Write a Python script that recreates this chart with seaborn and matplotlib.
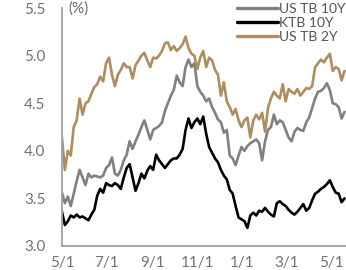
import numpy as np
import pandas as pd
import matplotlib
matplotlib.use("Agg")
import matplotlib.pyplot as plt
import matplotlib.dates as mdates
import seaborn as sns

# sampled every 4 calendar days from 2023-05-01
start_date = "2023-05-01"
step_days = 4

us_2y = [4.14, 3.80, 4.00, 3.95, 4.25, 4.32, 4.55, 4.38, 4.50, 4.52,
         4.60, 4.67, 4.70, 4.78, 4.73, 4.92, 4.98, 4.80, 4.68, 4.80,
         4.85, 4.92, 4.88, 4.88, 4.76, 4.90, 4.95, 5.00, 5.03, 4.95,
         4.88, 4.98, 4.97, 5.00, 5.05, 5.13, 5.14, 5.06, 5.10, 5.05,
         5.08, 5.12, 5.20, 5.08, 5.02, 5.00, 4.86, 4.98, 5.05, 4.88,
         4.98, 4.95, 4.85, 4.80, 4.58, 4.72, 4.52, 4.46, 4.38, 4.44,
         4.32, 4.25, 4.32, 4.35, 4.14, 4.32, 4.38, 4.33, 4.40, 4.20,
         4.45, 4.55, 4.62, 4.58, 4.55, 4.70, 4.52, 4.65, 4.62, 4.60,
         4.65, 4.58, 4.62, 4.66, 4.65, 4.68, 4.88, 4.92, 4.96, 4.93,
         4.98, 5.02, 4.84, 4.88, 4.86, 4.74, 4.84]

us_10y = [3.56, 3.45, 3.52, 3.42, 3.55, 3.68, 3.80, 3.72, 3.64, 3.76,
          3.72, 3.74, 3.73, 3.72, 3.74, 3.82, 3.85, 3.93, 3.76, 3.74,
          3.80, 3.90, 3.96, 4.10, 4.02, 4.10, 4.17, 4.25, 4.32, 4.22,
          4.12, 4.22, 4.24, 4.26, 4.30, 4.42, 4.50, 4.58, 4.64, 4.79,
          4.72, 4.68, 4.88, 4.96, 4.88, 4.92, 4.68, 4.62, 4.58, 4.52,
          4.55, 4.46, 4.40, 4.33, 4.30, 4.19, 4.22, 3.95, 3.92, 3.85,
          3.95, 4.04, 4.00, 4.05, 4.08, 4.10, 4.12, 4.08, 3.90, 4.10,
          4.22, 4.25, 4.38, 4.28, 4.32, 4.30, 4.22, 4.14, 4.10, 4.20,
          4.24, 4.22, 4.21, 4.30, 4.35, 4.45, 4.55, 4.62, 4.63, 4.66,
          4.71, 4.64, 4.50, 4.49, 4.46, 4.34, 4.41]

ktb_10y = [3.36, 3.22, 3.26, 3.32, 3.30, 3.33, 3.30, 3.31, 3.29, 3.27,
           3.33, 3.38, 3.53, 3.60, 3.56, 3.66, 3.64, 3.63, 3.66, 3.64,
           3.60, 3.72, 3.82, 3.86, 3.72, 3.58, 3.66, 3.76, 3.71, 3.79,
           3.84, 3.80, 3.96, 3.90, 3.86, 3.82, 3.86, 3.90, 3.92, 3.92,
           3.96, 4.02, 4.22, 4.34, 4.24, 4.30, 4.34, 4.28, 4.36, 4.18,
           4.04, 3.98, 3.92, 3.88, 3.80, 3.74, 3.70, 3.59, 3.55, 3.42,
           3.30, 3.28, 3.26, 3.19, 3.32, 3.35, 3.32, 3.37, 3.36, 3.40,
           3.36, 3.33, 3.31, 3.45, 3.47, 3.44, 3.42, 3.38, 3.35, 3.33,
           3.36, 3.40, 3.44, 3.37, 3.40, 3.48, 3.55, 3.57, 3.60, 3.62,
           3.65, 3.69, 3.62, 3.56, 3.55, 3.46, 3.50]

dates = pd.date_range(start_date, periods=len(us_2y), freq=f"{step_days}D")

df = pd.DataFrame({"date": dates, "US TB 10Y": us_10y, "KTB 10Y": ktb_10y, "US TB 2Y": us_2y})
long_df = df.melt(id_vars="date", var_name="series", value_name="rate")

colors = {"US TB 10Y": "#808080", "KTB 10Y": "#000000", "US TB 2Y": "#B08D60"}

sns.set_style("white")
plt.rcParams["font.family"] = ["Lato", "DejaVu Sans"]

fig = plt.figure(figsize=(3.46, 2.70), dpi=100)
ax = fig.add_axes([0.179, 0.089, 0.821, 0.881])

sns.lineplot(data=long_df, x="date", y="rate", hue="series",
             hue_order=["US TB 10Y", "KTB 10Y", "US TB 2Y"],
             palette=colors, linewidth=1.9, ax=ax)

ax.set_ylim(3.0, 5.5)
ax.set_yticks([3.0, 3.5, 4.0, 4.5, 5.0, 5.5])
ax.yaxis.set_major_formatter(matplotlib.ticker.FormatStrFormatter("%.1f"))
ax.set_xlim(pd.Timestamp("2023-05-01"), pd.Timestamp("2024-05-21"))
ax.xaxis.set_major_locator(mdates.MonthLocator(bymonth=[1, 3, 5, 7, 9, 11]))
ax.xaxis.set_major_formatter(matplotlib.ticker.FuncFormatter(
    lambda v, p: f"{mdates.num2date(v).month}/1"))
ax.set_xlabel("")
ax.set_ylabel("")

for side in ["top", "right"]:
    ax.spines[side].set_visible(False)
for side in ["left", "bottom"]:
    ax.spines[side].set_color("#a0a0a0")
    ax.spines[side].set_linewidth(1.3)
ax.tick_params(axis="both", colors="#a0a0a0", labelcolor="#727272",
               labelsize=11, length=3, width=1.2, direction="out")
ax.tick_params(axis="y", pad=9)
ax.tick_params(axis="x", pad=4)

ax.annotate("(%)", xy=(0, 1), xycoords="axes fraction", xytext=(4.5, 4.5),
            textcoords="offset points", ha="left", va="top",
            fontsize=11, color="#666666")

leg = ax.legend(loc="upper right", bbox_to_anchor=(1.0, 0.993),
                bbox_transform=fig.transFigure, frameon=False,
                fontsize=10, handlelength=2.9, handletextpad=0.08,
                labelspacing=0.16, borderaxespad=0.0, borderpad=0.05)
for t in leg.get_texts():
    t.set_color("#555555")
for line in leg.get_lines():
    line.set_linewidth(2.4)

fig.savefig("out.png", dpi=100)
